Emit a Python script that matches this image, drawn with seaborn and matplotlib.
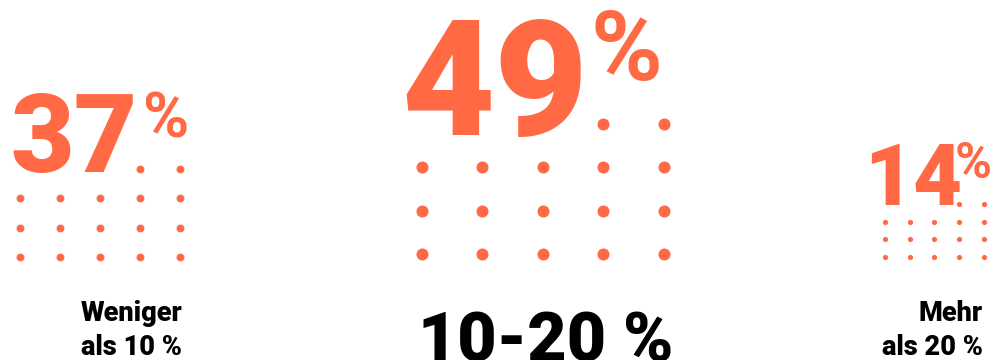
import numpy as np
import pandas as pd
import matplotlib
matplotlib.use("Agg")
import matplotlib.pyplot as plt
import seaborn as sns

# values shown in the chart
shares = [37, 49, 14]
labels = ["Weniger\nals 10 %", "10-20 %", "Mehr\nals 20 %"]

ORANGE = "#FF6A45"

# layout per group (pixel space): origin of dot grid, spacing, dot size, number size
layout = [
    dict(x0=20, y0=169, dx=40, dy=29.3, dot=32, num=79, pct=45, nx=10, ny=172, px=142, py=137),
    dict(x0=422, y0=124, dx=60.5, dy=43.3, dot=75, num=116, pct=70, nx=401, ny=135, px=591, py=80),
    dict(x0=885, y0=204, dx=24.7, dy=17.6, dot=14, num=61, pct=36, nx=864, ny=205, px=955, py=178),
]

sns.set_theme(style="white")
plt.rcParams["font.family"] = ["Roboto", "DejaVu Sans"]

fig = plt.figure(figsize=(10.03, 3.6), dpi=100)
ax = fig.add_axes([0, 0, 1, 1])
ax.set_xlim(0, 1003)
ax.set_ylim(360, 0)
ax.axis("off")

rows = []
for g, (val, lay) in enumerate(zip(shares, layout)):
    for r in range(4):
        for c in range(5):
            if r == 0 and c < 3:
                continue  # these sit under the big number
            rows.append(dict(group=g, x=lay["x0"] + c * lay["dx"],
                             y=lay["y0"] + r * lay["dy"], s=lay["dot"]))
dots = pd.DataFrame(rows)

for g, lay in enumerate(layout):
    d = dots[dots.group == g]
    sns.scatterplot(data=d, x="x", y="y", ax=ax, color=ORANGE, s=lay["dot"],
                    linewidth=0, legend=False)

for val, lay in zip(shares, layout):
    ax.text(lay["nx"], lay["ny"], str(val), color=ORANGE, fontsize=lay["num"],
            fontweight="black", ha="left", va="baseline")
    ax.text(lay["px"], lay["py"], "%", color=ORANGE, fontsize=lay["pct"],
            fontweight="bold", ha="left", va="baseline")

# category labels
ax.text(182, 355, labels[0], color="black", fontsize=19.5, fontweight="black",
        ha="right", va="baseline", linespacing=1.35, multialignment="right")
ax.text(546, 362, labels[1], color="black", fontsize=49, fontweight="black",
        ha="center", va="baseline")
ax.text(983, 355, labels[2], color="black", fontsize=19.5, fontweight="black",
        ha="right", va="baseline", linespacing=1.35, multialignment="right")

ax.set_xlabel("")
ax.set_ylabel("")
fig.savefig("out.png", dpi=100)
